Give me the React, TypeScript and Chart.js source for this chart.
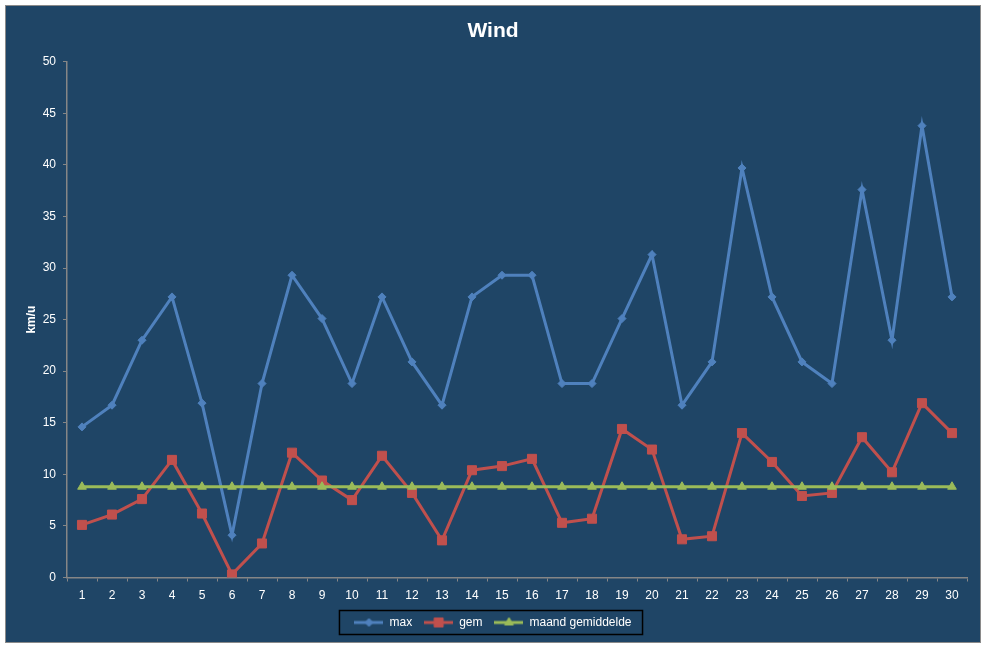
import React, { useEffect, useRef } from 'react';
import { Chart, registerables } from 'chart.js';
import { drawPoint } from 'chart.js/helpers';

Chart.register(...registerables);
Chart.defaults.font.family = "'Liberation Sans', Arial, sans-serif";

// dagen van de maand
const days = [
  '1', '2', '3', '4', '5', '6', '7', '8', '9', '10',
  '11', '12', '13', '14', '15', '16', '17', '18', '19', '20',
  '21', '22', '23', '24', '25', '26', '27', '28', '29', '30',
];

// km/u
const maxWind = [
  14.6, 16.7, 23.0, 27.2, 16.9, 4.1, 18.8, 29.3, 25.1, 18.8,
  27.2, 20.9, 16.7, 27.2, 29.3, 29.3, 18.8, 18.8, 25.1, 31.3,
  16.7, 20.9, 39.7, 27.2, 20.9, 18.8, 37.6, 23.0, 43.8, 27.2,
];

const gemWind = [
  5.1, 6.1, 7.6, 11.4, 6.2, 0.3, 3.3, 12.1, 9.4, 7.5,
  11.8, 8.2, 3.6, 10.4, 10.8, 11.5, 5.3, 5.7, 14.4, 12.4,
  3.7, 4.0, 14.0, 11.2, 7.9, 8.2, 13.6, 10.2, 16.9, 14.0,
];

const maandGemiddelde = [
  8.8, 8.8, 8.8, 8.8, 8.8, 8.8, 8.8, 8.8, 8.8, 8.8,
  8.8, 8.8, 8.8, 8.8, 8.8, 8.8, 8.8, 8.8, 8.8, 8.8,
  8.8, 8.8, 8.8, 8.8, 8.8, 8.8, 8.8, 8.8, 8.8, 8.8,
];

const yMin = 0;
const yMax = 50;
const yStep = 5;

const BLUE = '#4F81BD';
const RED = '#C0504D';
const GREEN = '#9BBB59';
const AXIS = '#868686';

// small line + marker image used as legend symbol
function legendIcon(color: string, pointStyle: any, radius: number) {
  const c = document.createElement('canvas');
  c.width = 29;
  c.height = 14;
  const ctx = c.getContext('2d')!;
  ctx.strokeStyle = color;
  ctx.fillStyle = color;
  ctx.lineWidth = 3;
  ctx.beginPath();
  ctx.moveTo(0, 7);
  ctx.lineTo(29, 7);
  ctx.stroke();
  ctx.lineWidth = 1;
  drawPoint(ctx, { pointStyle, radius, rotation: 0, borderWidth: 1 } as any, 14.5, 7);
  return c;
}

const legendBorder = {
  id: 'legendBorder',
  afterDraw(chart: any) {
    const hb = chart.legend?.legendHitBoxes;
    if (!hb || !hb.length) return;
    const first = hb[0];
    const last = hb[hb.length - 1];
    const cy = first.top + first.height / 2;
    const ctx = chart.ctx;
    ctx.save();
    ctx.strokeStyle = '#000000';
    ctx.lineWidth = 1.5;
    ctx.strokeRect(first.left - 15, cy - 12, last.left + last.width - first.left + 26, 24);
    ctx.restore();
  },
};

const WindChart: React.FC = () => {
  const chartRef = useRef<HTMLCanvasElement>(null);

  useEffect(() => {
    if (!chartRef.current) return;
    const icons = [
      legendIcon(BLUE, 'rectRot', 4),
      legendIcon(RED, 'rect', 6.4),
      legendIcon(GREEN, 'triangle', 5),
    ];

    const chart = new Chart(chartRef.current, {
      type: 'line',
      data: {
        labels: days,
        datasets: [
          {
            label: 'max',
            data: maxWind,
            borderColor: BLUE,
            backgroundColor: BLUE,
            pointStyle: 'rectRot',
            pointRadius: 4,
            order: 3,
          },
          {
            label: 'gem',
            data: gemWind,
            borderColor: RED,
            backgroundColor: RED,
            pointStyle: 'rect',
            pointRadius: 6.4,
            order: 2,
          },
          {
            label: 'maand gemiddelde',
            data: maandGemiddelde,
            borderColor: GREEN,
            backgroundColor: GREEN,
            pointStyle: 'triangle',
            pointRadius: 5,
            order: 1,
          },
        ],
      },
      options: {
        animation: false,
        responsive: false,
        events: [],
        layout: { padding: { left: 13, right: 13, top: 0, bottom: 3.5 } },
        elements: {
          line: { borderWidth: 3, tension: 0 },
          point: { borderWidth: 1, hoverRadius: 5 },
        },
        scales: {
          x: {
            offset: true,
            grid: {
              offset: true,
              drawOnChartArea: false,
              drawTicks: true,
              tickLength: 4,
              color: AXIS,
            },
            border: { display: true, color: AXIS, width: 1.5 },
            ticks: { color: '#FFFFFF', font: { size: 12 }, padding: 7 },
            afterFit: (scale: any) => {
              scale.height = 27;
            },
          },
          y: {
            min: yMin,
            max: yMax,
            grid: {
              drawOnChartArea: false,
              drawTicks: true,
              tickLength: 4,
              color: AXIS,
            },
            border: { display: true, color: AXIS, width: 1.5 },
            ticks: { stepSize: yStep, color: '#FFFFFF', font: { size: 12 }, padding: 7 },
            title: {
              display: true,
              text: 'km/u',
              color: '#FFFFFF',
              font: { size: 12, weight: 'bold' },
              padding: { top: 5, bottom: 0 },
            },
            afterFit: (scale: any) => {
              scale.width = 48;
            },
          },
        },
        plugins: {
          title: {
            display: true,
            text: 'Wind',
            color: '#FFFFFF',
            font: { size: 21, weight: 'bold' },
            padding: { top: 13, bottom: 17.5 },
          },
          legend: {
            position: 'bottom',
            labels: {
              color: '#FFFFFF',
              font: { size: 12 },
              padding: 12,
              usePointStyle: true,
              pointStyleWidth: 29,
              generateLabels: (c: any) => {
                const items = Chart.defaults.plugins.legend.labels.generateLabels(c);
                items.sort((a: any, b: any) => a.datasetIndex - b.datasetIndex);
                return items.map((it: any) => ({
                  ...it,
                  pointStyle: icons[it.datasetIndex],
                  rotation: 0,
                }));
              },
            },
          },
          tooltip: { enabled: false },
        },
      },
      plugins: [legendBorder],
    });

    return () => {
      chart.destroy();
    };
  }, []);

  return <canvas ref={chartRef} width={974} height={636} />;
};

export default function App() {
  return (
    <div
      style={{
        position: 'absolute',
        left: 5,
        top: 5,
        width: 976,
        height: 638,
        boxSizing: 'border-box',
        border: '1px solid #8A8A8A',
        background: '#1F4566',
      }}
    >
      <WindChart />
    </div>
  );
}
